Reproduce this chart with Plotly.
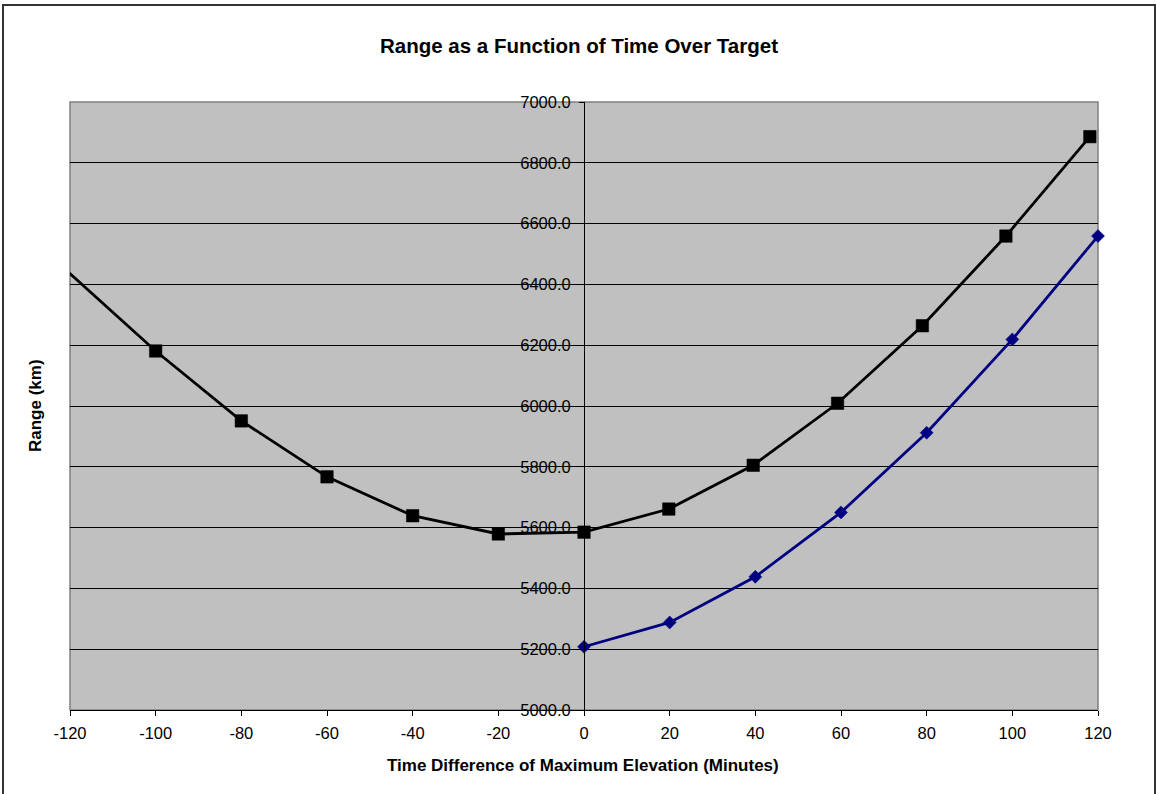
import plotly.graph_objects as go

# Data
x_black = [-121, -100, -80, -60, -40, -20, 0, 19.8, 39.5, 59.2, 79.0, 98.5, 118.1]
y_black = [6448, 6181, 5951, 5767, 5639, 5579, 5585, 5661, 5805, 6009, 6264, 6559, 6886]

x_blue = [0, 20, 40, 60, 80, 100, 120]
y_blue = [5208, 5288, 5438, 5650, 5912, 6219, 6559]

x_ticks = list(range(-120, 121, 20))
y_ticks = list(range(5000, 7001, 200))

FONT = "Arial, Liberation Sans, sans-serif"

W, H = 1156, 794
L, T = 70, 102
R = W - 1098
B = H - 710
pw, ph = W - L - R, H - T - B

def px(xp):  # page pixel -> paper x
    return (xp - L) / pw

def py(yp):  # page pixel -> paper y
    return (H - B - yp) / ph

fig = go.Figure()

fig.add_trace(go.Scatter(
    x=x_black, y=y_black, mode="lines+markers",
    line=dict(color="black", width=2.8),
    marker=dict(symbol="square", color="#000000", opacity=1,
                size=[0] + [12.5] * (len(x_black) - 1),
                line=dict(color="#000000", width=0.5)),
    showlegend=False, cliponaxis=True,
))
fig.add_trace(go.Scatter(
    x=x_blue, y=y_blue, mode="lines+markers",
    line=dict(color="#000080", width=2.8),
    marker=dict(symbol="diamond", color="#000080", size=10, opacity=1,
                line=dict(color="#000080", width=0.5)),
    showlegend=False, cliponaxis=False,
))

fig.update_layout(
    width=W, height=H,
    margin=dict(l=L, r=R, t=T, b=B),
    paper_bgcolor="white",
    plot_bgcolor="#C0C0C0",
    font=dict(family=FONT, color="black", size=16.5),
    title=dict(text="<b>Range as a Function of Time Over Target</b>",
               x=579 / W, xanchor="center", y=1 - 46 / H, yanchor="middle",
               font=dict(family=FONT, size=20.5, color="black")),
    xaxis=dict(range=[-120, 120], tickvals=x_ticks, ticktext=[str(v) for v in x_ticks],
               showgrid=False, zeroline=False,
               showline=True, linecolor="black", linewidth=1,
               ticks="outside", ticklen=5, tickcolor="black",
               ticklabelstandoff=3,
               tickfont=dict(family=FONT, size=16.5, color="black")),
    yaxis=dict(range=[5000, 7000], tickvals=y_ticks, tickformat=".1f",
               anchor="free", position=0.5,
               showgrid=True, gridcolor="black", gridwidth=1,
               zeroline=False,
               showline=True, linecolor="black", linewidth=1,
               ticks="outside", ticklen=5, tickcolor="black",
               ticklabelstandoff=5,
               tickfont=dict(family=FONT, size=16.5, color="black")),
    shapes=[
        dict(type="rect", xref="x domain", yref="y domain", x0=0, x1=1, y0=0, y1=1,
             line=dict(color="#808080", width=1.5), layer="below"),
        dict(type="rect", xref="paper", yref="paper",
             x0=px(3), x1=px(1155), y0=py(5), y1=py(800),
             line=dict(color="#333333", width=2)),
    ],
    annotations=[
        dict(text="<b>Time Difference of Maximum Elevation (Minutes)</b>",
             xref="paper", yref="paper", x=px(583), y=py(765),
             xanchor="center", yanchor="middle", showarrow=False,
             font=dict(family=FONT, size=17, color="black")),
        dict(text="<b>Range (km)</b>",
             xref="paper", yref="paper", x=px(35), y=0.5, textangle=-90,
             xanchor="center", yanchor="middle", showarrow=False,
             font=dict(family=FONT, size=17, color="black")),
    ],
)

fig.write_html(
    "out.html",
    config={"displayModeBar": False},
    post_script="document.body.style.margin='0';document.body.style.overflow='hidden';",
)
